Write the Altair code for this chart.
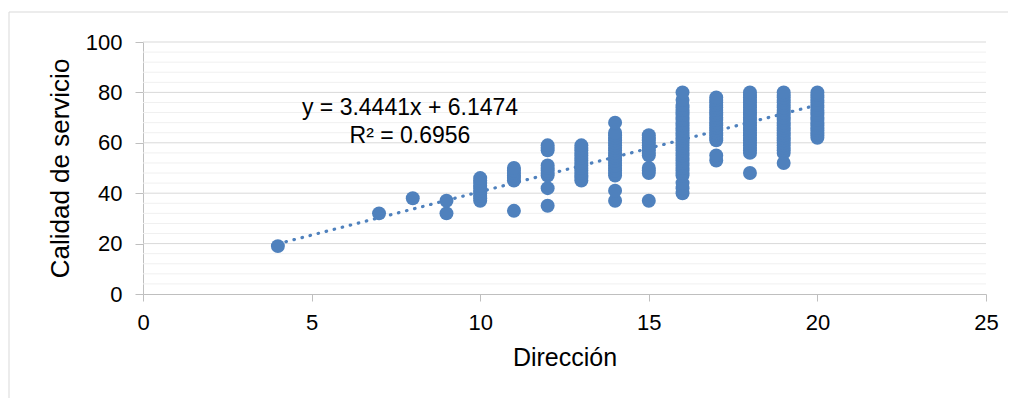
import altair as alt
import pandas as pd

# ---- data ----
direccion_cols = [4, 7, 8, 9, 10, 11, 12, 13, 14, 15, 16, 17, 18, 19, 20]
calidad_by_col = [
    [19],
    [32],
    [38],
    [32, 37],
    [37, 38, 39, 40, 41, 42, 43, 44, 45, 46],
    [33, 45, 46, 47, 48, 49, 50],
    [35, 42, 47, 48, 49, 50, 51, 57, 58, 59],
    [45, 46, 47, 48, 49, 50, 51, 52, 53, 54, 55, 56, 57, 58, 59],
    [37, 41, 47, 48, 49, 50, 51, 52, 53, 54, 55, 56, 57, 58, 59, 60, 61, 62, 63, 64, 68],
    [37, 48, 49, 50, 55, 56, 57, 58, 59, 60, 61, 62, 63],
    [40, 42, 44, 47, 48, 49, 50, 51, 52, 53, 54, 55, 56, 57, 58, 59, 60, 61, 62, 63,
     64, 65, 66, 67, 68, 69, 70, 71, 72, 73, 74, 75, 77, 80],
    [53, 55, 61, 62, 63, 64, 65, 66, 67, 68, 69, 70, 71, 72, 73, 74, 75, 76, 77, 78],
    [48, 56, 57, 58, 59, 60, 61, 62, 63, 64, 65, 66, 67, 68, 69, 70, 71, 72, 73, 74,
     75, 76, 77, 78, 79, 80],
    [52, 56, 57, 58, 59, 60, 61, 62, 63, 64, 65, 66, 67, 68, 69, 70, 71, 72, 73, 74,
     75, 76, 77, 78, 79, 80],
    [62, 63, 64, 65, 66, 67, 68, 69, 70, 71, 72, 73, 74, 75, 76, 77, 78, 79, 80],
]

trend_slope = 3.4441
trend_intercept = 6.1474
trend_x = [4, 20]
equation_lines = ["y = 3.4441x + 6.1474", "R² = 0.6956"]

x_ticks = [0, 5, 10, 15, 20, 25]
y_ticks = [0, 20, 40, 60, 80, 100]
major_grid = [20, 40, 60, 80, 100]
minor_grid = [4, 8, 12, 16, 24, 28, 32, 36, 44, 48, 52, 56, 64, 68, 72, 76, 84, 88, 92, 96]

# ---- tables ----
rows = []
for xv, ys in zip(direccion_cols, calidad_by_col):
    for yv in ys:
        rows.append({"Dirección": xv, "Calidad": yv})
points_df = pd.DataFrame(rows)
trend_df = pd.DataFrame({"Dirección": trend_x})
major_df = pd.DataFrame({"Calidad": major_grid})
minor_df = pd.DataFrame({"Calidad": minor_grid})
one_df = pd.DataFrame({"a": [0]})

FONT = "Liberation Sans"
BLUE = "#4F81BD"

xscale = alt.Scale(domain=[0, 25], nice=False, zero=True)
yscale = alt.Scale(domain=[0, 100], nice=False)

xaxis = alt.Axis(
    values=x_ticks, grid=False, domainColor="#BFBFBF", tickColor="#BFBFBF",
    tickSize=7, labelFontSize=22, labelPadding=11, labelColor="#000000",
    labelFont=FONT, titleFont=FONT, titleFontSize=25, titleFontWeight="normal",
    titleColor="#000000", titlePadding=12, labelFlush=False,
)
yaxis = alt.Axis(
    values=y_ticks, grid=False, domainColor="#BFBFBF", tickColor="#BFBFBF",
    tickSize=8, labelFontSize=22, labelPadding=13, labelColor="#000000",
    labelFont=FONT, titleFont=FONT, titleFontSize=26, titleFontWeight="normal",
    titleColor="#000000", titlePadding=12, labelFlush=False,
)
X = lambda: alt.X("Dirección:Q", scale=xscale, title="Dirección", axis=xaxis)
Y = lambda: alt.Y("Calidad:Q", scale=yscale, title="Calidad de servicio", axis=yaxis)

minor = alt.Chart(minor_df).mark_rule(color="#F0F0F0", strokeWidth=1).encode(y=Y())
major = alt.Chart(major_df).mark_rule(color="#D9D9D9", strokeWidth=1).encode(y=Y())

trend = alt.Chart(trend_df).transform_calculate(
    Calidad=f"{trend_slope} * datum['Dirección'] + {trend_intercept}"
).mark_line(
    color=BLUE, strokeWidth=3.2, strokeDash=[0.5, 7.8], strokeCap="round"
).encode(x=X(), y=Y())

points = alt.Chart(points_df).mark_circle(size=195, opacity=1, color=BLUE).encode(
    x=X(), y=Y()
)

eq1 = alt.Chart(one_df).mark_text(
    text=equation_lines[0], font=FONT, fontSize=23, color="#000000",
    align="center", baseline="alphabetic",
).encode(x=alt.value(267), y=alt.value(73))
eq2 = alt.Chart(one_df).mark_text(
    text=equation_lines[1], font=FONT, fontSize=23, color="#000000",
    align="center", baseline="alphabetic",
).encode(x=alt.value(267), y=alt.value(101))

frame_top = alt.Chart(one_df).mark_rule(color="#D9D9D9", strokeWidth=1).encode(
    x=alt.value(-134), x2=alt.value(880), y=alt.value(-30)
)
frame_left = alt.Chart(one_df).mark_rule(color="#D9D9D9", strokeWidth=1).encode(
    x=alt.value(-134), y=alt.value(-30), y2=alt.value(370)
)

chart = alt.layer(
    minor, major, frame_top, frame_left, trend, points, eq1, eq2
).properties(
    width=843, height=252,
    autosize=alt.AutoSizeParams(type="none"),
    padding={"left": 135, "top": 34, "right": 22, "bottom": 104},
).configure(background="#FFFFFF").configure_view(strokeOpacity=0, strokeWidth=0)

chart.save("out.html", embed_options={"renderer": "svg", "actions": False})
